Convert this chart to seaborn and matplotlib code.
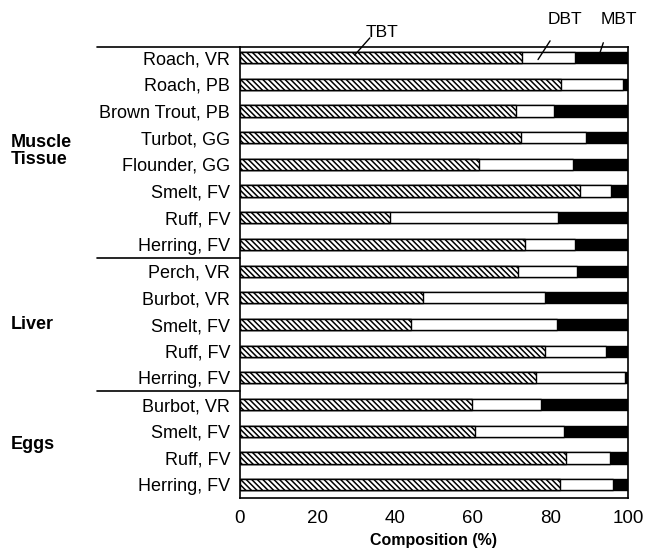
import numpy as np
import pandas as pd
import seaborn as sns
import matplotlib.pyplot as plt
from matplotlib.lines import Line2D

# samples, top to bottom (trailing spaces keep repeated names apart as categories)
samples = ["Roach, VR", "Roach, PB", "Brown Trout, PB", "Turbot, GG", "Flounder, GG",
           "Smelt, FV", "Ruff, FV", "Herring, FV",
           "Perch, VR", "Burbot, VR", "Smelt, FV ", "Ruff, FV ", "Herring, FV ",
           "Burbot, VR ", "Smelt, FV  ", "Ruff, FV  ", "Herring, FV  "]
tissue_groups = ["Muscle\nTissue", "Liver", "Eggs"]
group_sizes = [8, 5, 4]

# composition (%)
tbt = [72.6, 82.7, 71.0, 72.4, 61.7, 87.6, 38.7, 73.5,
       71.7, 47.2, 44.2, 78.6, 76.3,
       59.7, 60.6, 84.0, 82.5]
dbt = [13.7, 16.1, 9.9, 16.8, 24.0, 8.0, 43.3, 12.7,
       15.1, 31.4, 37.6, 15.6, 22.8,
       17.9, 23.0, 11.4, 13.6]
mbt = [13.7, 1.2, 19.1, 10.8, 14.3, 4.4, 18.0, 13.8,
       13.2, 21.4, 18.2, 5.8, 0.9,
       22.4, 16.4, 4.6, 3.9]

df = pd.DataFrame({"sample": samples, "TBT": tbt, "DBT": dbt, "MBT": mbt})
df["to_dbt"] = df["TBT"] + df["DBT"]
df["to_mbt"] = df["to_dbt"] + df["MBT"]

sns.set_style("white")
plt.rcParams["font.family"] = ["Liberation Sans", "DejaVu Sans"]
plt.rcParams["text.color"] = "black"
plt.rcParams["xtick.color"] = "black"
plt.rcParams["ytick.color"] = "black"
plt.rcParams["axes.labelcolor"] = "black"
plt.rcParams["hatch.linewidth"] = 1.1

fig = plt.figure(figsize=(6.55, 5.53), dpi=100)
ax = fig.add_axes([0.366, 0.0995, 0.593, 0.8155])

bw = 0.42
# stacked: longest first, then overlay the shorter ones
sns.barplot(data=df, x="to_mbt", y="sample", orient="h", color="black",
            edgecolor="black", linewidth=1, width=bw, ax=ax, saturation=1)
sns.barplot(data=df, x="to_dbt", y="sample", orient="h", color="white",
            edgecolor="black", linewidth=1, width=bw, ax=ax, saturation=1)
n = len(df)
sns.barplot(data=df, x="TBT", y="sample", orient="h", color="white",
            edgecolor="black", linewidth=1, width=bw, ax=ax, saturation=1)
for p in ax.patches[2 * n:]:
    p.set_hatch("\\\\\\\\\\\\")

ax.set_xlim(0, 100)
ax.set_ylim(n - 0.5, -0.4)
ax.set_xticks([0, 20, 40, 60, 80, 100])
ax.tick_params(axis="y", length=0, labelsize=13, pad=7)
ax.tick_params(axis="x", length=0, labelsize=13.5, pad=9)
ax.set_yticks(range(n))
ax.set_yticklabels([s.strip() for s in samples])
ax.set_ylabel("")
ax.set_xlabel("Composition (%)", fontsize=11.5, fontweight="bold", labelpad=4)
for s in ax.spines.values():
    s.set_visible(True)
    s.set_color("black")
    s.set_linewidth(1.2)

# group labels and separators on the left
ext = -0.368
ax.add_line(Line2D([ext, 0], [1, 1], transform=ax.transAxes, color="black",
                   lw=1.2, clip_on=False))
start = 0
for name, size in zip(tissue_groups, group_sizes):
    mid = start + (size - 1) / 2
    ax.text(-0.59, mid, name, transform=ax.get_yaxis_transform(), ha="left",
            va="center", fontsize=13, fontweight="bold", linespacing=1.05)
    start += size
    if start < n:
        ax.plot([ext, 0], [start - 0.5, start - 0.5], color="black", lw=1.2,
                transform=ax.get_yaxis_transform(), clip_on=False)

# leader labels
ax.text(36.6, -0.95, "TBT", ha="center", va="center", fontsize=12.5)
ax.plot([33.5, 29.6], [-0.74, -0.1], color="black", lw=1, clip_on=False)
ax.text(83.8, -1.42, "DBT", ha="center", va="center", fontsize=12.5)
ax.plot([79.9, 76.8], [-0.63, 0.07], color="black", lw=1, clip_on=False)
ax.text(97.7, -1.42, "MBT", ha="center", va="center", fontsize=12.5)
ax.plot([93.6, 92.0], [-0.56, 0.14], color="black", lw=1, clip_on=False)

fig.savefig("out.png", dpi=100)
